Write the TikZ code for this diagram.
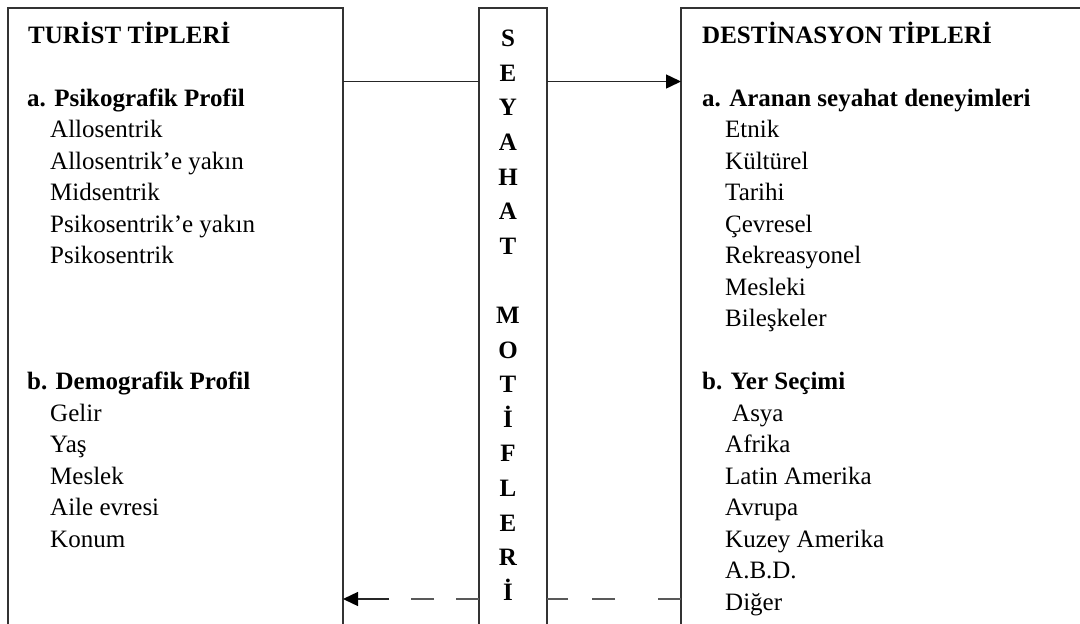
\documentclass[tikz,border=0pt]{standalone}
\usepackage{fontspec}
\setmainfont{Liberation Serif}
\usetikzlibrary{arrows.meta}
\begin{document}
\begin{tikzpicture}[x=1pt,y=-1pt,
  frame/.style={draw=black!80, line width=1.6pt, minimum width=#1, minimum height=650pt,
    anchor=north west, inner sep=0pt, outer sep=0pt},
  txt/.style={anchor=base west, inner sep=0pt, font=\fontsize{25}{30}\selectfont},
  head/.style={txt, font=\fontsize{25}{30}\selectfont\bfseries},
  letter/.style={anchor=base, inner sep=0pt, font=\fontsize{25}{30}\selectfont\bfseries},
  conn/.style={draw=black!85, line width=1.5pt},
  dconn/.style={draw=black!65, line width=1.4pt},
  tip/.style={-{Triangle[length=15pt,width=14pt,color=black]}}
]
\useasboundingbox (0,0) rectangle (1080,624);
\clip (0,0) rectangle (1080,624);

% three frames, open at the bottom edge
\node[frame=335pt] (tur) at (8,8) {};
\node[frame=68pt]  (mot) at (479,8) {};
\node[frame=450pt] (des) at (681,8) {};

% tourist types
\node[head] (turT) at (28,43) {TURİST TİPLERİ};
\node[head] (turA) at (27,106) {a. Psikografik Profil};
\foreach \t [count=\i] in {Allosentrik, Allosentrik’e yakın, Midsentrik, Psikosentrik’e yakın, Psikosentrik}
  \node[txt] (turA\i) at (50,{106+31.5*\i}) {\t};
\node[head] (turB) at (27,389.5) {b. Demografik Profil};
\foreach \t [count=\i] in {Gelir, Yaş, Meslek, Aile evresi, Konum}
  \node[txt] (turB\i) at (50,{389.5+31.5*\i}) {\t};

% destination types
\node[head] (desT) at (702,43) {DESTİNASYON TİPLERİ};
\node[head] (desA) at (702,106) {a. Aranan seyahat deneyimleri};
\foreach \t [count=\i] in {Etnik, Kültürel, Tarihi, Çevresel, Rekreasyonel, Mesleki, Bileşkeler}
  \node[txt] (desA\i) at (725,{106+31.5*\i}) {\t};
\node[head] (desB) at (702,389.5) {b. Yer Seçimi};
\node[txt] (desB1) at (732,421) {Asya};
\foreach \t [count=\i from 2] in {Afrika, Latin Amerika, Avrupa, Kuzey Amerika, A.B.D., Diğer}
  \node[txt] (desB\i) at (725,{389.5+31.5*\i}) {\t};

% vertical label in the middle column
\foreach \c [count=\i from 0] in {S,E,Y,A,H,A,T}
  \node[letter] (mw\i) at (508,{46.7+34.6*\i}) {\c};
\foreach \c [count=\i from 8] in {M,O,T,İ,F,L,E,R,İ}
  \node[letter] (mm\i) at (508,{46.7+34.6*\i}) {\c};

% connectors
\coordinate (yTop) at (0,81.5);
\coordinate (yBot) at (0,599);
\draw[conn] (tur.east |- yTop) -- (mot.west |- yTop);
\draw[conn,tip] (mot.east |- yTop) -- (des.west |- yTop);
\draw[dconn, dash pattern=on 23pt off 43pt on 23pt off 24pt on 40pt]
  (des.west |- yBot) -- (mot.east |- yBot);
\draw[dconn, dash pattern=on 23pt off 22pt on 23pt off 22pt on 80pt, tip]
  (mot.west |- yBot) -- (tur.east |- yBot);
\draw[conn, line width=1.6pt] ([xshift=15pt]tur.east |- yBot) -- ([xshift=46pt]tur.east |- yBot);
\end{tikzpicture}
\end{document}
